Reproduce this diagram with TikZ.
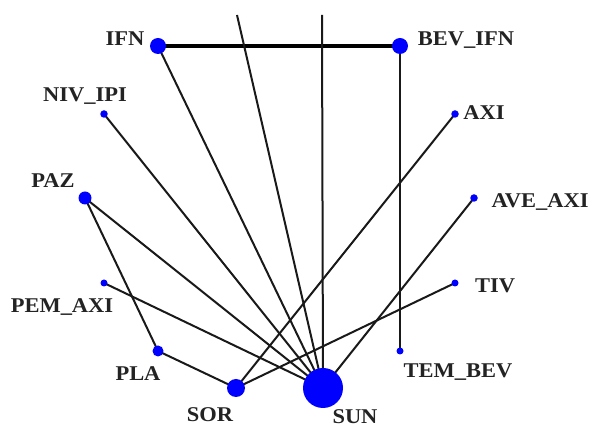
\documentclass[tikz,border=0pt]{standalone}
\usepackage{fontspec}
\setmainfont{Liberation Serif}
\usetikzlibrary{backgrounds}
\definecolor{nodeblue}{RGB}{0,0,255}
\definecolor{labelgray}{RGB}{35,35,35}
\tikzset{
  vertex/.style={circle, fill=nodeblue, draw=none, inner sep=0pt, minimum size=#1},
  lbl/.style={text=labelgray, font=\bfseries\fontsize{21}{25}\selectfont, inner sep=0pt, xscale=1.07},
  edge/.style={draw=black!90, line width=2pt},
  heavyedge/.style={draw=black, line width=4pt}
}
\begin{document}
\begin{tikzpicture}[x=1pt,y=-1pt]
\useasboundingbox (0,0) rectangle (590,427);
\node[vertex=16pt] (IFN) at (158,46) {};
\node[vertex=16pt] (BEVIFN) at (400,46) {};
\node[vertex=7.5pt] (NIVIPI) at (104,114) {};
\node[vertex=7.5pt] (AXI) at (455,114) {};
\node[vertex=13pt] (PAZ) at (85,198) {};
\node[vertex=7.5pt] (AVEAXI) at (474,198) {};
\node[vertex=7pt] (PEMAXI) at (104,283) {};
\node[vertex=7pt] (TIV) at (455,283) {};
\node[vertex=11pt] (PLA) at (158,351) {};
\node[vertex=7pt] (TEMBEV) at (400,351) {};
\node[vertex=18pt] (SOR) at (236,388) {};
\node[vertex=40pt] (SUN) at (323,388) {};
\coordinate (topA) at (237,15);
\coordinate (topB) at (322,15);

\node[lbl] (lIFN) at (125,39) {IFN};
\node[lbl] (lBEVIFN) at (466,40) {BEV\_IFN};
\node[lbl] (lNIVIPI) at (85,96) {NIV\_IPI};
\node[lbl] (lAXI) at (484,113) {AXI};
\node[lbl] (lPAZ) at (53,181) {PAZ};
\node[lbl] (lAVEAXI) at (540,202) {AVE\_AXI};
\node[lbl] (lPEMAXI) at (62,307) {PEM\_AXI};
\node[lbl] (lTIV) at (495,286) {TIV};
\node[lbl] (lPLA) at (138,374) {PLA};
\node[lbl] (lTEMBEV) at (458,372) {TEM\_BEV};
\node[lbl] (lSOR) at (210,415) {SOR};
\node[lbl] (lSUN) at (355,417) {SUN};

\begin{pgfonlayer}{background}
\draw[heavyedge] (IFN.center) -- (BEVIFN.center);
\draw[edge] (BEVIFN.center) -- (TEMBEV.center);
\draw[edge] (IFN.center) -- (SUN.center);
\draw[edge] (NIVIPI.center) -- (SUN.center);
\draw[edge] (PAZ.center) -- (SUN.center);
\draw[edge] (PAZ.center) -- (PLA.center);
\draw[edge] (PEMAXI.center) -- (SUN.center);
\draw[edge] (PLA.center) -- (SOR.center);
\draw[edge] (AXI.center) -- (SOR.center);
\draw[edge] (TIV.center) -- (SOR.center);
\draw[edge] (AVEAXI.center) -- (SUN.center);
\draw[edge] (topA) -- (SUN.center);
\draw[edge] (topB) -- (SUN.center);
\end{pgfonlayer}
\end{tikzpicture}
\end{document}
